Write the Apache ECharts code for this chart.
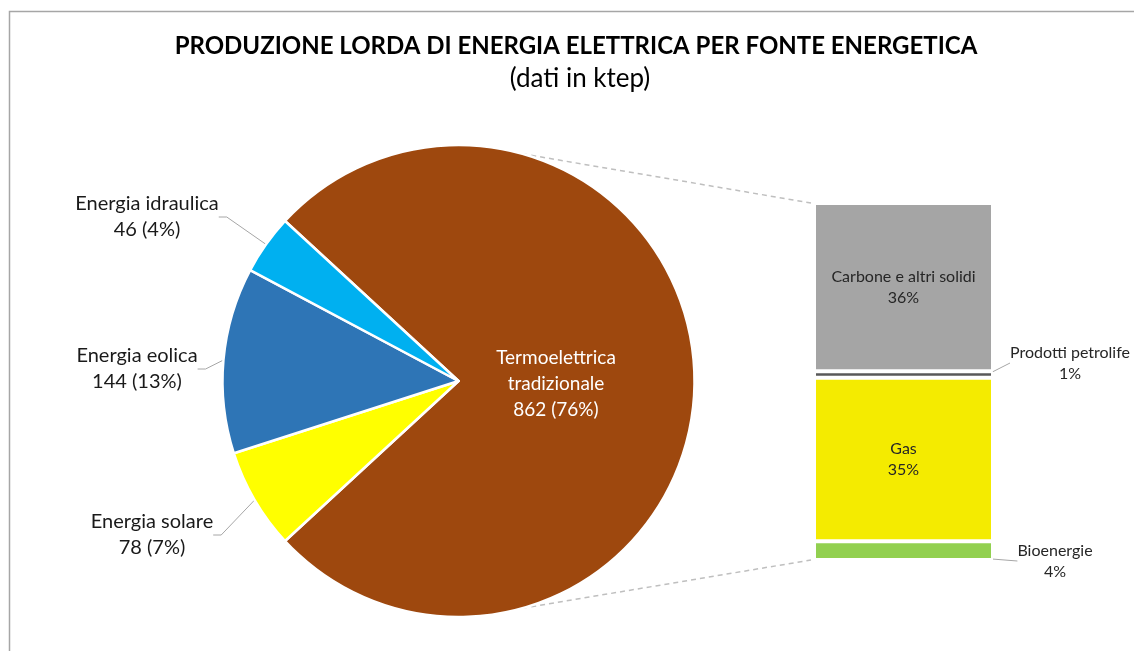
<!DOCTYPE html>
<html><head><meta charset="utf-8">
<script src="https://cdn.jsdelivr.net/npm/echarts@6/dist/echarts.min.js"></script>
<style>html,body{margin:0;padding:0;background:#fff}#c{width:1134px;height:651px}</style>
</head><body><div id="c"></div>
<script>
const titleText = 'PRODUZIONE LORDA DI ENERGIA ELETTRICA PER FONTE ENERGETICA';
const subtitleText = '(dati in ktep)';
const pieNames = ['Termoelettrica tradizionale', 'Energia solare', 'Energia eolica', 'Energia idraulica'];
const pieValues = [862, 78, 144, 46];
const barNames = ['Bioenergie', 'Gas', 'Prodotti petrolife', 'Carbone e altri solidi'];
const barValues = [4.0, 34.8, 1.4, 35.8];

const pieColors = ['#9E480E', '#FFFF00', '#2E75B6', '#00B0F0'];
const barColors = ['#92D050', '#F4EB00', '#595959', '#A5A5A5'];
const pieLabelPos = [[556, 384], [152, 535], [137, 369], [147, 217]];
const barOutsideLabelPos = {0: [1055, 561], 2: [1070, 363]};

const FONT = 'Lato';
const pieCenter = [458.5, 381];
const pieRadius = 236;
const pieTotal = pieValues.reduce((a, b) => a + b, 0);
const barTotal = barValues.reduce((a, b) => a + b, 0);
const startAngle = pieValues[0] / pieTotal * 180;

const chart = echarts.init(document.getElementById('c'), null, {renderer: 'canvas'});

const barSeries = barNames.map((n, i) => {
  const outside = barOutsideLabelPos[i];
  const s = {
    type: 'bar', name: n, stack: 'mix', barWidth: '100%',
    data: [barValues[i]],
    itemStyle: {color: barColors[i], borderColor: '#fff', borderWidth: 2},
    emphasis: {disabled: true},
    label: {
      show: true, position: outside ? 'right' : 'inside',
      formatter: p => p.seriesName + '\n' + Math.round(p.value) + '%',
      fontFamily: FONT, fontSize: 16, lineHeight: 21, color: '#262626'
    }
  };
  if (outside) {
    s.labelLayout = {x: outside[0], y: outside[1], align: 'center', verticalAlign: 'middle'};
    s.labelLine = {show: true, lineStyle: {color: '#a6a6a6', width: 1}};
  }
  return s;
});

chart.setOption({
  animation: false,
  textStyle: {fontFamily: FONT},
  title: [
    {text: titleText, left: 571, top: 29, textAlign: 'center',
     textStyle: {fontFamily: FONT, fontSize: 24, fontWeight: 'bold', color: '#000'}},
    {text: subtitleText, left: 575, top: 61, textAlign: 'center',
     textStyle: {fontFamily: FONT, fontSize: 26, fontWeight: 'normal', color: '#000'}}
  ],
  grid: {left: 814, top: 203, width: 179, height: 357},
  xAxis: {type: 'category', data: ['mix'], show: false},
  yAxis: {type: 'value', min: 0, max: barTotal, show: false},
  series: [
    {
      type: 'pie', center: pieCenter, radius: pieRadius, startAngle: startAngle, clockwise: true,
      percentPrecision: 0, avoidLabelOverlap: false,
      emphasis: {disabled: true},
      itemStyle: {borderColor: '#fff', borderWidth: 2.5},
      label: {show: true, position: 'outside', formatter: '{b}\n{c} ({d}%)',
              fontFamily: FONT, fontSize: 20, lineHeight: 26, color: '#1a1a1a'},
      labelLine: {show: true, length: 12, length2: 8, lineStyle: {color: '#a6a6a6', width: 1}},
      labelLayout: p => {
        const pos = pieLabelPos[p.dataIndex];
        return {x: pos[0], y: pos[1], align: 'center', verticalAlign: 'middle'};
      },
      data: pieNames.map((n, i) => {
        const d = {name: n, value: pieValues[i], itemStyle: {color: pieColors[i]}};
        if (i === 0) {
          d.label = {position: 'inside', color: '#fff', fontSize: 19,
                     formatter: p => p.name.replace(' ', '\n') + '\n' + p.value + ' (' + p.percent + '%)'};
          d.labelLine = {show: false};
        }
        return d;
      })
    }
  ].concat(barSeries)
});

// connector lines and frame
const yTop = chart.convertToPixel({yAxisIndex: 0}, barTotal);
const yBot = chart.convertToPixel({yAxisIndex: 0}, 0);
const gridLeft = 814;
const a = 74.3 * Math.PI / 180;
const pTop = [pieCenter[0] + pieRadius * Math.cos(a), pieCenter[1] - pieRadius * Math.sin(a)];
const pBot = [pieCenter[0] + pieRadius * Math.cos(a), pieCenter[1] + pieRadius * Math.sin(a)];
const dash = {stroke: '#bfbfbf', lineWidth: 1.5, lineDash: [5, 4]};
chart.setOption({
  graphic: [
    {type: 'rect', silent: true, shape: {x: 9.5, y: 11.5, width: 1200, height: 700},
     style: {fill: 'none', stroke: '#a6a6a6', lineWidth: 1.5}},
    {type: 'line', silent: true, shape: {x1: pTop[0], y1: pTop[1], x2: gridLeft - 3, y2: yTop}, style: dash},
    {type: 'line', silent: true, shape: {x1: pBot[0], y1: pBot[1], x2: gridLeft - 3, y2: yBot}, style: dash}
  ]
});
</script></body></html>
